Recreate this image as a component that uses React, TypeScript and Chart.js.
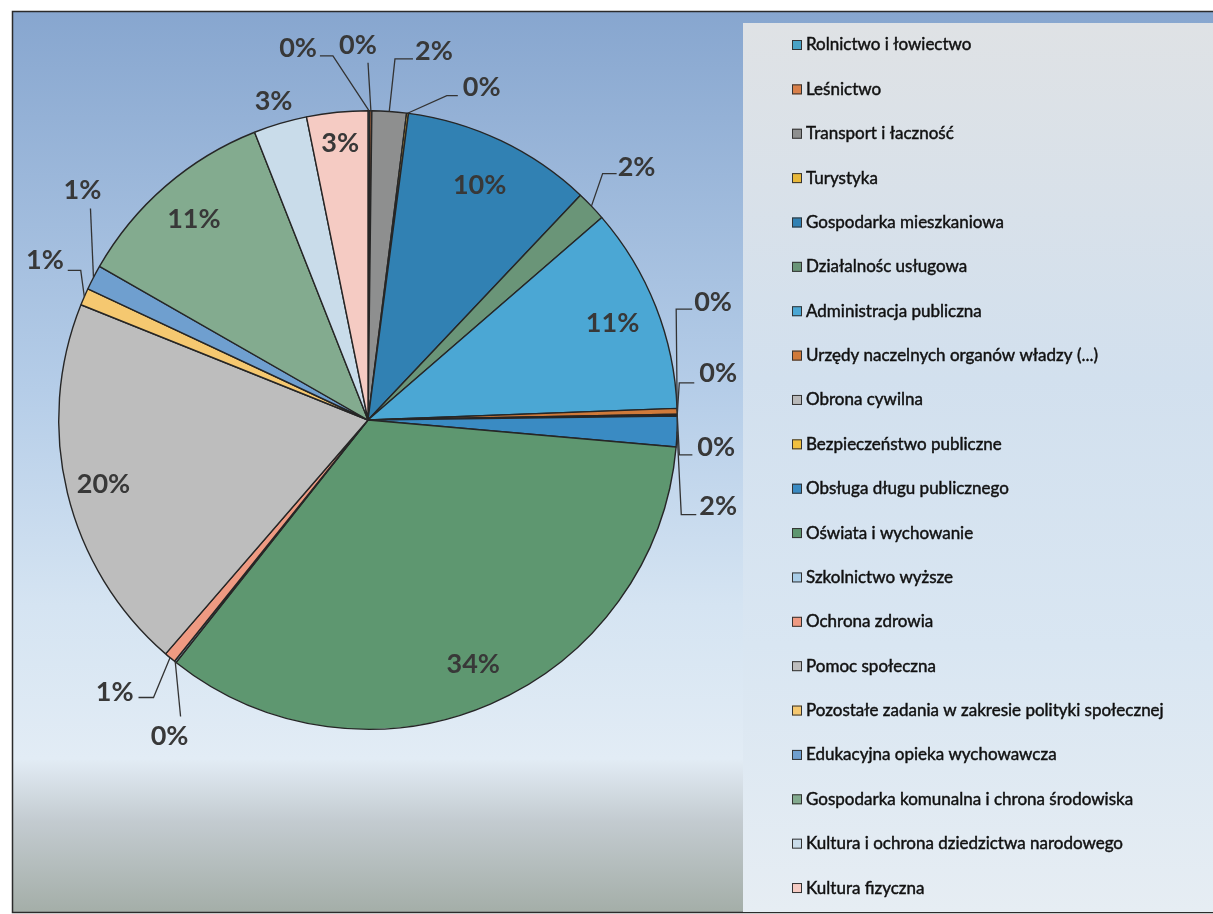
import React, { useEffect, useRef } from "react";
import { Chart, registerables } from "chart.js";

Chart.register(...registerables);

const categories: string[] = [
  "Rolnictwo i łowiectwo",
  "Leśnictwo",
  "Transport i łaczność",
  "Turystyka",
  "Gospodarka mieszkaniowa",
  "Działalnośc usługowa",
  "Administracja publiczna",
  "Urzędy naczelnych organów władzy (...)",
  "Obrona cywilna",
  "Bezpieczeństwo publiczne",
  "Obsługa długu publicznego",
  "Oświata i wychowanie",
  "Szkolnictwo wyższe",
  "Ochrona zdrowia",
  "Pomoc społeczna",
  "Pozostałe zadania w zakresie polityki społecznej",
  "Edukacyjna opieka wychowawcza",
  "Gospodarka komunalna i chrona środowiska",
  "Kultura i ochrona dziedzictwa narodowego",
  "Kultura fizyczna",
];

// share of expenditure, in percent
const shares: number[] = [
  0.1, 0.1, 1.8, 0.1, 10.0, 1.6, 10.8, 0.3, 0.05, 0.05,
  1.6, 34.4, 0.1, 0.6, 19.8, 0.9, 1.3, 10.8, 2.8, 3.2,
];

const sliceColors: string[] = [
  "#4aa3c6", "#d9804a", "#8e8f8f", "#e8b83a", "#3181b3",
  "#6a9578", "#4ba7d4", "#d07a3a", "#b9b9b9", "#f0c040",
  "#3a8bc3", "#5e9770", "#a8cde8", "#ef9a82", "#bdbdbd",
  "#f5c870", "#6f9fcf", "#83ab8f", "#c9dcea", "#f5cbc3",
];

// label placement (style): inside/outside at a radius fraction, or callout with elbow
type Place =
  | { kind: "in"; r: number }
  | { kind: "out"; a: number; r: number; h: number; tx: number; ty: number; align: CanvasTextAlign };

const placement: Place[] = [
  { kind: "out", a: 354.5, r: 1.183, h: -13, tx: -3, ty: -7, align: "right" },
  { kind: "out", a: 0, r: 1.155, h: 0, tx: -10, ty: -17, align: "center" },
  { kind: "out", a: 4.27, r: 1.171, h: 18, tx: 2, ty: -8, align: "left" },
  { kind: "out", a: 13.66, r: 1.079, h: 11, tx: 5, ty: -8, align: "left" },
  { kind: "in", r: 0.84 },
  { kind: "out", a: 43.6, r: 1.1, h: 14, tx: 1, ty: -6, align: "left" },
  { kind: "in", r: 0.85 },
  { kind: "out", a: 70.2, r: 1.059, h: 16, tx: 2, ty: -7, align: "left" },
  { kind: "out", a: 83.2, r: 1.0135, h: 15, tx: 5, ty: -10, align: "left" },
  { kind: "out", a: 96.4, r: 1.013, h: 13, tx: 5, ty: -8, align: "left" },
  { kind: "out", a: 106.8, r: 1.058, h: 15, tx: 3, ty: -8, align: "left" },
  { kind: "in", r: 0.86 },
  { kind: "out", a: 212.3, r: 1.134, h: 0, tx: -11, ty: 20, align: "center" },
  { kind: "out", a: 217.7, r: 1.134, h: -15, tx: -5, ty: -5, align: "right" },
  { kind: "in", r: 0.88 },
  { kind: "out", a: 297.5, r: 1.047, h: -13, tx: -4, ty: -10, align: "right" },
  { kind: "out", a: 307.3, r: 1.128, h: 0, tx: -8, ty: -18, align: "center" },
  { kind: "in", r: 0.86 },
  { kind: "in", r: 1.075 },
  { kind: "in", r: 0.9 },
];

const W = 1213;
const H = 914;

const backgroundPlugin = {
  id: "bgPlugin",
  beforeDraw(chart: any) {
    const ctx = chart.ctx as CanvasRenderingContext2D;
    ctx.save();
    ctx.fillStyle = "#ffffff";
    ctx.fillRect(0, 0, W, H);
    const g = ctx.createLinearGradient(0, 11, 0, 912);
    g.addColorStop(0, "#87a6cf");
    g.addColorStop(0.42, "#b5cde8");
    g.addColorStop(0.66, "#d5e4f2");
    g.addColorStop(0.83, "#e2ecf5");
    g.addColorStop(0.9, "#c3cbd0");
    g.addColorStop(1, "#a4aea8");
    ctx.fillStyle = g;
    ctx.fillRect(12, 11, W - 12, 901);
    ctx.strokeStyle = "#2b2b2b";
    ctx.lineWidth = 1.5;
    ctx.beginPath();
    ctx.moveTo(W, 11.5);
    ctx.lineTo(12.5, 11.5);
    ctx.lineTo(12.5, 912.5);
    ctx.lineTo(W, 912.5);
    ctx.stroke();

    // legend panel
    const lg = ctx.createLinearGradient(0, 23, 0, 912);
    lg.addColorStop(0, "#dfe2e5");
    lg.addColorStop(0.4, "#d2e0ee");
    lg.addColorStop(0.7, "#d9e6f2");
    lg.addColorStop(1, "#e6edf3");
    ctx.fillStyle = lg;
    ctx.fillRect(743, 23, W - 743, 889);
    ctx.restore();
  },
};

const labelsPlugin = {
  id: "labelsPlugin",
  afterDatasetsDraw(chart: any) {
    const ctx = chart.ctx as CanvasRenderingContext2D;
    const meta = chart.getDatasetMeta(0);
    const data: number[] = chart.data.datasets[0].data;
    const total = data.reduce((s, v) => s + v, 0);
    ctx.save();
    ctx.font = "bold 27px Lato";
    ctx.fillStyle = "#383838";
    ctx.strokeStyle = "#333333";
    ctx.lineWidth = 1.3;
    ctx.textBaseline = "middle";
    meta.data.forEach((arc: any, i: number) => {
      const p = arc.getProps(["x", "y", "startAngle", "endAngle", "outerRadius"], true);
      const mid = (p.startAngle + p.endAngle) / 2;
      const text = Math.round((data[i] / total) * 100) + "%";
      const pl = placement[i];
      if (pl.kind === "in") {
        ctx.textAlign = "center";
        ctx.fillText(text, p.x + Math.cos(mid) * p.outerRadius * pl.r, p.y + Math.sin(mid) * p.outerRadius * pl.r);
      } else {
        const sx = p.x + Math.cos(mid) * p.outerRadius;
        const sy = p.y + Math.sin(mid) * p.outerRadius;
        const ea = ((pl.a - 90) * Math.PI) / 180;
        const ex = p.x + Math.cos(ea) * p.outerRadius * pl.r;
        const ey = p.y + Math.sin(ea) * p.outerRadius * pl.r;
        const hx = ex + pl.h;
        ctx.beginPath();
        ctx.moveTo(sx, sy);
        ctx.lineTo(ex, ey);
        ctx.lineTo(hx, ey);
        ctx.stroke();
        ctx.textAlign = pl.align;
        ctx.fillText(text, hx + pl.tx, ey + pl.ty);
      }
    });
    ctx.restore();
  },
  afterDraw(chart: any) {
    const ctx = chart.ctx as CanvasRenderingContext2D;
    const labels: string[] = chart.data.labels;
    const cols: string[] = chart.data.datasets[0].backgroundColor;
    ctx.save();
    ctx.font = "17px Lato";
    ctx.textBaseline = "middle";
    ctx.textAlign = "left";
    labels.forEach((lab, i) => {
      const cy = 45 + i * 44.37;
      ctx.fillStyle = cols[i];
      ctx.fillRect(792, cy - 5, 10, 10);
      ctx.strokeStyle = "#333";
      ctx.lineWidth = 1;
      ctx.strokeRect(792.5, cy - 4.5, 9, 9);
      ctx.fillStyle = "#111111";
      ctx.fillText(lab, 806, cy);
      ctx.strokeStyle = "#111111";
      ctx.lineWidth = 0.45;
      ctx.strokeText(lab, 806, cy);
    });
    ctx.restore();
  },
};

export default function App() {
  const ref = useRef<HTMLCanvasElement | null>(null);
  useEffect(() => {
    if (!ref.current) return;
    const chart = new Chart(ref.current, {
      type: "pie",
      data: {
        labels: categories,
        datasets: [
          {
            data: shares,
            backgroundColor: sliceColors,
            borderColor: "#262626",
            borderWidth: 1.4,
          },
        ],
      },
      options: {
        animation: false,
        responsive: false,
        maintainAspectRatio: false,
        devicePixelRatio: 1,
        layout: { padding: { left: 58, top: 110, right: 535, bottom: 184 } },
        plugins: {
          legend: { display: false },
          tooltip: { enabled: false },
        },
      },
      plugins: [backgroundPlugin, labelsPlugin],
    });
    return () => chart.destroy();
  }, []);
  return (
    <div style={{ position: "absolute", left: 0, top: 0, width: W, height: H }}>
      <canvas ref={ref} width={W} height={H} style={{ width: W, height: H, display: "block" }} />
    </div>
  );
}
